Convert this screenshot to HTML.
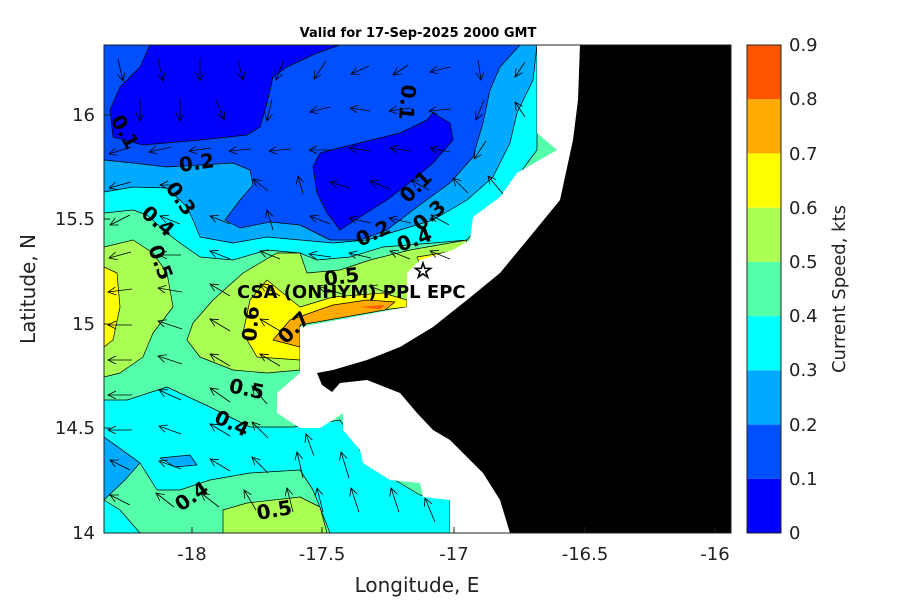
<!DOCTYPE html>
<html><head><meta charset="utf-8"><style>
body{margin:0;background:#fff;width:900px;height:600px;overflow:hidden}
svg text{font-family:"DejaVu Sans","Liberation Sans",sans-serif}
.cl{font-weight:bold;font-size:20px;fill:#000}
</style></head><body>
<svg width="900" height="600" viewBox="0 0 900 600" xmlns="http://www.w3.org/2000/svg">
<defs><clipPath id="pc"><rect x="104" y="45" width="627" height="488"/></clipPath>
<marker id="ah" markerWidth="10" markerHeight="10" refX="8" refY="4" orient="auto" markerUnits="userSpaceOnUse"><path d="M0,0 L8,4 L0,8" fill="none" stroke="#000" stroke-width="0.8"/></marker></defs>
<text x="418" y="37" font-size="13" font-weight="bold" text-anchor="middle">Valid for 17-Sep-2025 2000 GMT</text>
<g clip-path="url(#pc)" stroke="#000" stroke-width="0.7" stroke-linejoin="round">
<rect x="104" y="45" width="627" height="488" fill="#55ffaa" stroke="none"/>
<polygon fill="#00ffff" points="104,45 104,213 133,210 147,215 167,233 180,243 200,257 233,260 267,250 300,253 317,260 350,257 383,247 433,243 467,240 500,200 537,150 537,45"/>
<polygon fill="#00aaff" points="104,45 104,192 133,187 167,188 187,207 193,220 200,237 233,243 267,237 300,240 333,243 367,240 400,230 433,220 467,200 493,177 510,143 517,113 533,80 537,45"/>
<polygon fill="#0050ff" points="104,45 104,160 133,163 167,167 233,163 250,170 253,185 240,200 225,220 240,228 270,222 300,225 330,240 360,240 387,230 417,207 450,183 473,157 483,123 490,90 500,67 520,45"/>
<polygon fill="#0000ff" points="150,45 140,67 120,87 110,110 113,137 143,145 200,140 247,135 260,127 267,103 273,77 287,67 317,53 340,45"/>
<polygon fill="#0000ff" points="433,113 450,123 453,140 433,163 413,180 387,200 360,217 340,230 327,213 317,193 313,167 320,153 343,147 400,133 427,120"/>
<polygon fill="#00ffff" points="104,400 127,400 167,387 210,407 250,427 293,427 340,420 360,450 395,480 420,495 450,497 450,533 330,533 313,490 300,470 250,473 210,480 180,490 157,490 140,463 104,437"/>
<polygon fill="#00aaff" points="104,437 140,463 125,480 104,500"/>
<polygon fill="#00aaff" points="160,458 190,455 197,465 175,467"/>
<polygon fill="#00ffff" points="104,500 120,510 140,533 104,533"/>
<polygon fill="#aaff55" points="104,247 133,240 153,253 167,273 173,307 153,333 143,357 120,373 104,377"/>
<polygon fill="#aaff55" points="187,340 193,323 213,300 243,273 277,253 300,253 307,273 340,270 370,260 410,250 467,240 450,300 300,320 300,370 267,373 233,370 200,357"/>
<polygon fill="#aaff55" points="223,533 223,510 247,503 300,497 320,507 327,533"/>
<polygon fill="#ffff00" points="104,267 117,273 120,307 113,340 104,347"/>
<polygon fill="#ffff00" points="250,300 267,280 300,307 333,297 383,293 407,300 407,307 300,320 300,360 257,357 243,333"/>
<polygon fill="#ffff00" points="417,257 460,250 440,262 420,265"/>
<polygon fill="#ffaa00" points="273,340 290,320 333,305 367,300 395,302 385,310 300,325 300,347"/>
<polygon fill="#ff5500" stroke="none" points="360,307 385,305 380,309"/>
<polygon fill="#fff" stroke="none" points="537,45 537,133 557,150 517,173 500,197 473,217 470,240 453,250 420,260 407,273 407,307 300,327 300,373 277,393 277,413 300,428 320,428 333,420 343,413 343,430 360,450 363,463 390,480 420,483 423,497 450,500 450,533 731,533 731,45"/>
<polygon fill="#000" stroke="none" points="580,45 578,100 573,140 560,200 533,233 500,273 467,300 433,327 400,347 367,360 333,370 317,373 322,385 332,392 340,383 367,380 400,393 417,413 433,430 450,440 467,457 483,473 500,500 510,533 731,533 731,45"/>
<g stroke-width="0.8" marker-end="url(#ah)">
<line x1="118" y1="59" x2="123" y2="81"/><line x1="158" y1="59" x2="163" y2="81"/><line x1="200" y1="59" x2="200" y2="81"/><line x1="238" y1="60" x2="243" y2="80"/><line x1="284" y1="60" x2="276" y2="80"/><line x1="326" y1="61" x2="314" y2="79"/><line x1="369" y1="66" x2="351" y2="74"/><line x1="408" y1="65" x2="393" y2="75"/><line x1="450" y1="67" x2="430" y2="72"/><line x1="478" y1="60" x2="481" y2="80"/><line x1="525" y1="62" x2="515" y2="77"/>
<line x1="140" y1="99" x2="140" y2="121"/><line x1="180" y1="99" x2="180" y2="121"/><line x1="216" y1="100" x2="224" y2="120"/><line x1="272" y1="99" x2="267" y2="121"/><line x1="330" y1="107" x2="310" y2="112"/><line x1="370" y1="111" x2="350" y2="108"/><line x1="411" y1="108" x2="389" y2="111"/><line x1="451" y1="109" x2="429" y2="111"/><line x1="484" y1="100" x2="476" y2="120"/><line x1="525" y1="117" x2="515" y2="102"/>
<line x1="131" y1="147" x2="109" y2="154"/><line x1="171" y1="147" x2="149" y2="152"/><line x1="211" y1="148" x2="189" y2="151"/><line x1="251" y1="149" x2="229" y2="151"/><line x1="291" y1="149" x2="269" y2="151"/><line x1="331" y1="150" x2="309" y2="150"/><line x1="371" y1="151" x2="349" y2="148"/><line x1="410" y1="151" x2="390" y2="148"/><line x1="450" y1="152" x2="430" y2="148"/><line x1="486" y1="141" x2="474" y2="159"/>
<line x1="131" y1="182" x2="109" y2="188"/><line x1="180" y1="185" x2="160" y2="185"/><line x1="268" y1="191" x2="253" y2="179"/><line x1="303" y1="194" x2="298" y2="176"/><line x1="350" y1="188" x2="330" y2="182"/><line x1="390" y1="189" x2="370" y2="181"/><line x1="429" y1="190" x2="411" y2="180"/><line x1="468" y1="193" x2="453" y2="178"/><line x1="503" y1="194" x2="488" y2="176"/>
<line x1="130" y1="215" x2="110" y2="225"/><line x1="180" y1="224" x2="160" y2="216"/><line x1="230" y1="224" x2="210" y2="216"/><line x1="273" y1="230" x2="267" y2="210"/><line x1="330" y1="224" x2="310" y2="216"/><line x1="371" y1="223" x2="349" y2="218"/><line x1="411" y1="223" x2="389" y2="218"/><line x1="449" y1="225" x2="431" y2="215"/>
<line x1="131" y1="252" x2="109" y2="258"/><line x1="181" y1="255" x2="159" y2="255"/><line x1="230" y1="259" x2="210" y2="251"/><line x1="280" y1="259" x2="260" y2="251"/><line x1="331" y1="257" x2="309" y2="254"/><line x1="371" y1="258" x2="349" y2="253"/><line x1="410" y1="259" x2="390" y2="251"/><line x1="450" y1="259" x2="430" y2="251"/>
<line x1="132" y1="289" x2="108" y2="292"/><line x1="182" y1="292" x2="158" y2="288"/><line x1="230" y1="296" x2="210" y2="284"/><line x1="280" y1="296" x2="260" y2="284"/><line x1="342" y1="294" x2="318" y2="286"/><line x1="391" y1="294" x2="369" y2="286"/>
<line x1="132" y1="325" x2="108" y2="325"/><line x1="182" y1="329" x2="158" y2="321"/><line x1="230" y1="331" x2="210" y2="319"/><line x1="280" y1="331" x2="260" y2="319"/>
<line x1="132" y1="360" x2="108" y2="360"/><line x1="182" y1="364" x2="158" y2="356"/><line x1="230" y1="366" x2="210" y2="354"/><line x1="280" y1="366" x2="260" y2="354"/>
<line x1="132" y1="395" x2="108" y2="395"/><line x1="181" y1="400" x2="159" y2="390"/><line x1="230" y1="402" x2="210" y2="388"/><line x1="267" y1="404" x2="252" y2="386"/>
<line x1="132" y1="430" x2="108" y2="430"/><line x1="181" y1="434" x2="159" y2="426"/><line x1="230" y1="436" x2="210" y2="424"/><line x1="268" y1="438" x2="252" y2="422"/><line x1="314" y1="456" x2="306" y2="434"/>
<line x1="130" y1="470" x2="110" y2="460"/><line x1="181" y1="469" x2="159" y2="461"/><line x1="230" y1="471" x2="210" y2="459"/><line x1="268" y1="473" x2="252" y2="457"/><line x1="303" y1="478" x2="297" y2="452"/><line x1="349" y1="478" x2="341" y2="452"/>
<line x1="130" y1="505" x2="110" y2="495"/><line x1="174" y1="507" x2="156" y2="493"/><line x1="219" y1="507" x2="201" y2="493"/><line x1="256" y1="510" x2="244" y2="490"/><line x1="293" y1="512" x2="287" y2="488"/><line x1="323" y1="512" x2="317" y2="488"/><line x1="359" y1="512" x2="351" y2="488"/><line x1="399" y1="512" x2="391" y2="488"/><line x1="435" y1="522" x2="425" y2="498"/>
</g>
</g>
<rect x="104" y="45" width="627" height="488" fill="none" stroke="#222" stroke-width="1"/>
<g stroke="#222" stroke-width="1">
<line x1="192" y1="533" x2="192" y2="527"/><line x1="322" y1="533" x2="322" y2="527"/><line x1="454" y1="533" x2="454" y2="527"/><line x1="585" y1="533" x2="585" y2="527"/><line x1="715" y1="533" x2="715" y2="527"/>
<line x1="104" y1="115" x2="110" y2="115"/><line x1="104" y1="219" x2="110" y2="219"/><line x1="104" y1="324" x2="110" y2="324"/><line x1="104" y1="428" x2="110" y2="428"/>
</g>
<g class="cl">
<text transform="translate(110,120) rotate(60)">0.1</text>
<text transform="translate(180,172) rotate(-8)">0.2</text>
<text transform="translate(165,188) rotate(55)">0.3</text>
<text transform="translate(140,215) rotate(40)">0.4</text>
<text transform="translate(148,248) rotate(70)">0.5</text>
<text transform="translate(402,84) rotate(95)">0.1</text>
<text transform="translate(408,204) rotate(-45)">0.1</text>
<text transform="translate(360,247) rotate(-25)">0.2</text>
<text transform="translate(420,232) rotate(-40)">0.3</text>
<text transform="translate(400,252) rotate(-20)">0.4</text>
<text transform="translate(325,286) rotate(-8)">0.5</text>
<text transform="translate(256,342) rotate(-85)">0.6</text>
<text transform="translate(286,345) rotate(-45)">0.7</text>
<text transform="translate(228,392) rotate(12)">0.5</text>
<text transform="translate(213,422) rotate(25)">0.4</text>
<text transform="translate(181,512) rotate(-35)">0.4</text>
<text transform="translate(258,520) rotate(-10)">0.5</text>
</g>
<text x="237" y="298" font-size="18" font-weight="bold">CSA (ONHYM) PPL EPC</text>
<text x="423" y="278" font-size="22" text-anchor="middle" fill="#fff" stroke="#000" stroke-width="1">☆</text>
<g font-size="18" fill="#222" text-anchor="middle">
<text x="192" y="560">-18</text><text x="322" y="560">-17.5</text><text x="454" y="560">-17</text><text x="585" y="560">-16.5</text><text x="715" y="560">-16</text>
</g>
<g font-size="18" fill="#222" text-anchor="end">
<text x="95" y="121">16</text><text x="95" y="225">15.5</text><text x="95" y="330">15</text><text x="95" y="434">14.5</text><text x="95" y="539">14</text>
</g>
<text x="417" y="592" font-size="20" fill="#222" text-anchor="middle">Longitude, E</text>
<text transform="translate(35,289) rotate(-90)" font-size="20" fill="#222" text-anchor="middle">Latitude, N</text>
<g stroke="none">
<rect x="747" y="478.8" width="34" height="54.2" fill="#0000ff"/>
<rect x="747" y="424.6" width="34" height="54.2" fill="#0050ff"/>
<rect x="747" y="370.3" width="34" height="54.2" fill="#00aaff"/>
<rect x="747" y="316.1" width="34" height="54.2" fill="#00ffff"/>
<rect x="747" y="261.9" width="34" height="54.2" fill="#55ffaa"/>
<rect x="747" y="207.7" width="34" height="54.2" fill="#aaff55"/>
<rect x="747" y="153.4" width="34" height="54.2" fill="#ffff00"/>
<rect x="747" y="99.2" width="34" height="54.2" fill="#ffaa00"/>
<rect x="747" y="45" width="34" height="54.2" fill="#ff5500"/>
</g>
<rect x="747" y="45" width="34" height="488" fill="none" stroke="#222" stroke-width="1"/>
<g font-size="18" fill="#222">
<text x="789" y="539">0</text><text x="789" y="485">0.1</text><text x="789" y="431">0.2</text><text x="789" y="376">0.3</text><text x="789" y="322">0.4</text><text x="789" y="268">0.5</text><text x="789" y="214">0.6</text><text x="789" y="160">0.7</text><text x="789" y="105">0.8</text><text x="789" y="51">0.9</text>
</g>
<text transform="translate(845,289) rotate(-90)" font-size="18" fill="#222" text-anchor="middle">Current Speed, kts</text>
</svg>
</body></html>
